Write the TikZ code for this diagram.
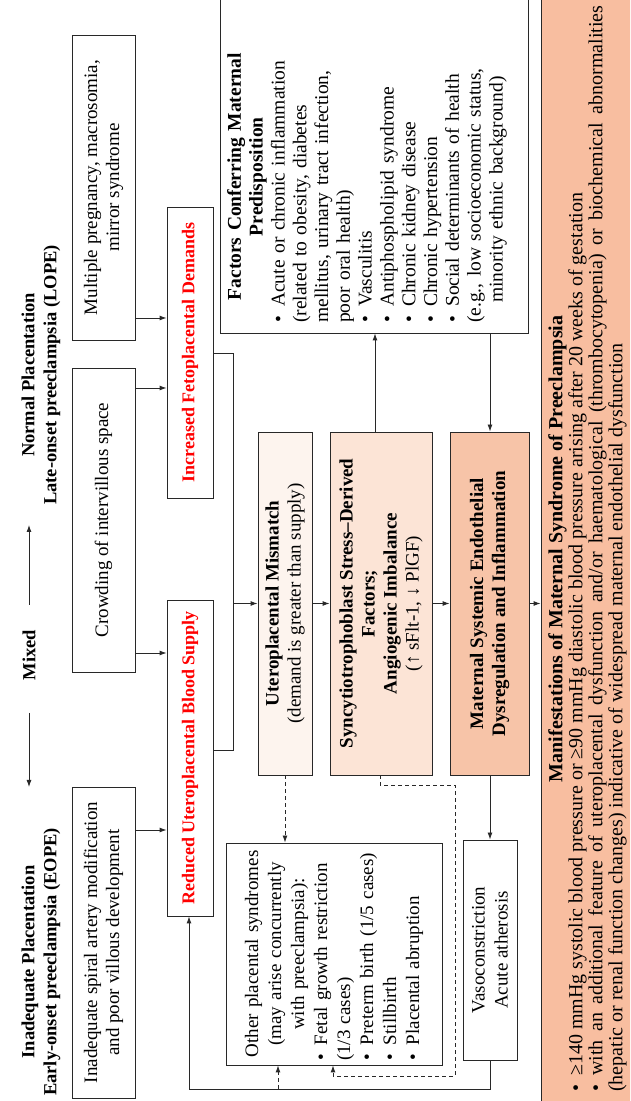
\documentclass[tikz,border=0pt]{standalone}
\usepackage{fontspec}
\setmainfont{Liberation Serif}
\usetikzlibrary{arrows.meta}
\definecolor{mismfill}{RGB}{253,244,238}
\definecolor{syncfill}{RGB}{252,228,214}
\definecolor{matfill}{RGB}{247,196,168}
\definecolor{manfill}{RGB}{248,190,160}
\definecolor{boxline}{RGB}{40,40,40}
\newcommand\bitm[1]{\par\noindent\hangindent=16pt\hangafter=1\makebox[16pt][l]{\textbullet}#1}
\begin{document}
\begin{tikzpicture}[x=1pt,y=1pt,
  every node/.style={font=\fontsize{19}{22}\selectfont},
  box/.style={draw=boxline, line width=0.9pt, rotate=90, align=center, inner sep=2pt},
  ttl/.style={rotate=90, align=center, font=\fontsize{18.5}{22}\selectfont\bfseries},
  redtxt/.style={text=red, font=\fontsize{18}{22}\selectfont\bfseries},
  arr/.style={-{Latex[length=7pt,width=5pt]}, line width=0.9pt, draw=boxline},
  darr/.style={arr, dash pattern=on 4pt off 3pt},
  ln/.style={line width=0.9pt, draw=boxline},
]
\useasboundingbox (0,0) rectangle (630,1101);
\clip (0,0) rectangle (630,1101);
\fill[white] (0,0) rectangle (630,1101);

% titles
\node[ttl] (teope) at (41,139) {Inadequate Placentation\\Early-onset preeclampsia (EOPE)};
\node[ttl] (mixed) at (29,446) {Mixed};
\node[ttl] (tlope) at (41,726) {Normal Placentation\\Late-onset preeclampsia (LOPE)};
\coordinate (la) at (29,388); \coordinate (lb) at (29,314);
\coordinate (ra) at (29,496); \coordinate (rb) at (29,576);
\draw[arr] (la) -- (lb);
\draw[arr] (ra) -- (rb);

% first row
\node[box, minimum width=311pt, minimum height=63pt] (inad) at (103.5,158.5)
  {Inadequate spiral artery modification\\and poor villous development};
\node[box, minimum width=304pt, minimum height=63pt] (crowd) at (103.5,581)
  {Crowding of intervillous space};
\node[box, minimum width=305pt, minimum height=63pt] (mult) at (103.5,913.5)
  {Multiple pregnancy, macrosomia,\\mirror syndrome};

% second row
\node[box, redtxt, minimum width=291pt, minimum height=46pt] (incr) at (190,748.5)
  {Increased Fetoplacental Demands};
\node[box, redtxt, minimum width=316pt, minimum height=46pt] (red) at (190,343)
  {Reduced Uteroplacental Blood Supply};

% central chain
\node[box, fill=mismfill, minimum width=343pt, minimum height=54pt] (mism) at (285,497.5)
  {\textbf{Uteroplacental Mismatch}\\(demand is greater than supply)};
\node[box, fill=syncfill, minimum width=343pt, minimum height=102pt] (sync) at (381,497.5)
  {\textbf{Syncytiotrophoblast Stress–Derived}\\\textbf{Factors;}\\\textbf{Angiogenic Imbalance}\\(↑ sFlt-1, ↓ PlGF)};
\node[box, fill=matfill, minimum width=343pt, minimum height=79pt] (matern) at (489.5,497.5)
  {\textbf{Maternal Systemic Endothelial}\\\textbf{Dysregulation and Inflammation}};

% factors box
\node[box, minimum width=338pt, minimum height=308pt] (factors) at (374,937) {};
\node[rotate=90, anchor=north west, text width=292pt, align=left, inner sep=0pt,
  font=\fontsize{19.5}{21.8}\selectfont] (factorstxt) at (227,778)
  {{\centering\bfseries Factors Conferring Maternal\\Predisposition\par}
   \bitm{Acute or chronic inflammation\\(related to obesity, diabetes\\mellitus, urinary tract infection,\\poor oral health)}
   \bitm{Vasculitis}
   \bitm{Antiphospholipid syndrome}
   \bitm{Chronic kidney disease}
   \bitm{Chronic hypertension}
   \bitm{Social determinants of health\\(e.g., low socioeconomic status,\\\hspace*{20pt}minority ethnic background)}};

% manifestations
\node[box, fill=manfill, minimum width=1111pt, minimum height=98pt, inner sep=0pt] (manif) at (590,550.5) {};
\node[rotate=90, anchor=north west, text width=1086pt, align=justify, inner sep=0pt,
  font=\fontsize{20}{20}\selectfont] (maniftxt) at (548,9)
  {{\centering\bfseries Manifestations of Maternal Syndrome of Preeclampsia\par}
   \bitm{≥140 mmHg systolic blood pressure or ≥90 mmHg diastolic blood pressure arising after 20 weeks of gestation\hfill\null}
   \bitm{with an additional feature of uteroplacental dysfunction and/or haematological (thrombocytopenia) or biochemical abnormalities\linebreak (hepatic or renal function changes) indicative of widespread maternal endothelial dysfunction}};

% lower boxes
\node[box, minimum width=222pt, minimum height=216pt, align=left, text width=214pt,
  font=\fontsize{19}{23}\selectfont] (other) at (334,147)
  {{\centering Other placental syndromes\\(may arise concurrently\\with preeclampsia):\par}
   \bitm{Fetal growth restriction\\(1/3 cases)}
   \bitm{Preterm birth (1/5 cases)}
   \bitm{Stillbirth}
   \bitm{Placental abruption}};
\node[box, minimum width=220pt, minimum height=54pt, font=\fontsize{19}{23}\selectfont] (vaso) at (490,151)
  {Vasoconstriction\\Acute atherosis};

% helper coordinates
\coordinate (yA) at (0,783);
\coordinate (yB) at (0,713);
\coordinate (yC) at (0,448);
\coordinate (yD) at (0,271);
\coordinate (jA) at (233,748);
\coordinate (jB) at (233,351);
\coordinate (jC) at (233,497.5);
\coordinate (xS) at (375,0);
\coordinate (xM) at (490,0);
\coordinate (xO) at (285,0);
\coordinate (xP) at (380,0);
\coordinate (xQ) at (455,0);
\coordinate (xR) at (333,0);
\coordinate (xV) at (189,0);
\coordinate (xW) at (278,0);
\coordinate (yE) at (0,316);
\coordinate (yF) at (0,25);
\coordinate (yG) at (0,12);

% connectors
\draw[arr] (mult.south |- yA) -- (incr.north |- yA);
\draw[arr] (crowd.south |- yB) -- (incr.north |- yB);
\draw[arr] (crowd.south |- yC) -- (red.north |- yC);
\draw[arr] (inad.south |- yD) -- (red.north |- yD);
\draw[ln] (incr.south |- jA) -- (jA) -- (jB) -- (red.south |- jB);
\draw[arr] (jC) -- (mism.north);
\draw[arr] (mism.south) -- (sync.north);
\draw[arr] (sync.south) -- (matern.north);
\draw[arr] (matern.south) -- (manif.north |- matern.south);
\draw[arr] (xS |- sync.east) -- (xS |- factors.west);
\draw[arr] (xM |- factors.west) -- (xM |- matern.east);
\draw[arr] (xM |- matern.west) -- (xM |- vaso.east);
\draw[darr] (xO |- mism.west) -- (xO |- other.east);
\draw[darr] (xP |- sync.west) -- (xP |- yE) -- (xQ |- yE) -- (xQ |- yF) -- (xR |- yF) -- (xR |- other.west);
\draw[arr] (xM |- vaso.west) -- (xM |- yG) -- (xV |- yG) -- (xV |- red.west);
\draw[darr] (xW |- yG) -- (xW |- other.west);
\end{tikzpicture}
\end{document}
